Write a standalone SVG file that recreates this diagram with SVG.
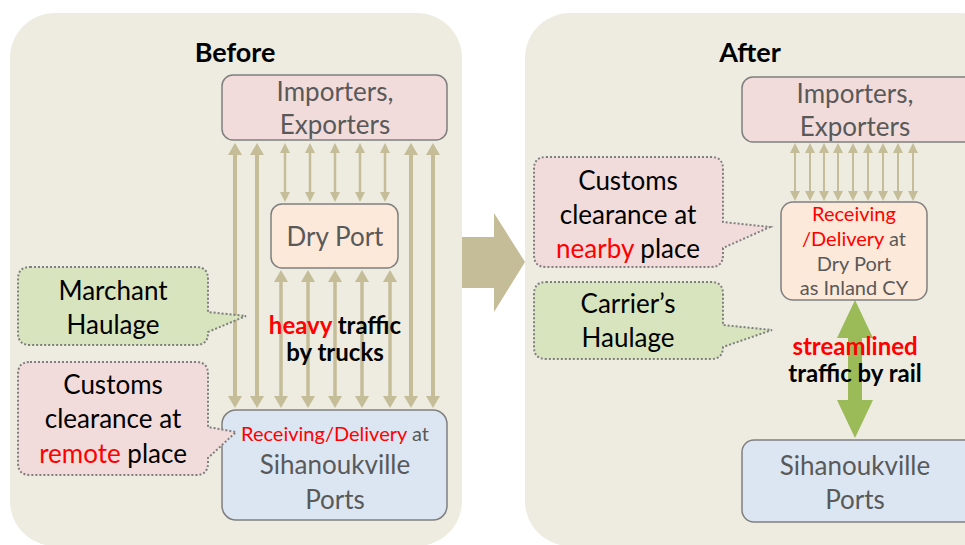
<svg xmlns="http://www.w3.org/2000/svg" width="965" height="545" viewBox="0 0 965 545">
<style>
text{font-family:Lato,"Open Sans","Liberation Sans",sans-serif;text-anchor:middle}
.t{font-size:27px;font-weight:bold;fill:#000}
.box{stroke:#7f7f7f;stroke-width:1.5}
.bl{font-size:26px;fill:#595959}
.sm{font-size:20px;fill:#595959}
.red{fill:#ff0000}
.co{stroke:#7f7f7f;stroke-width:2;stroke-dasharray:2 2}
.cl{font-size:26px;fill:#000}
.bd{font-size:24px;font-weight:bold;fill:#000}
.a1{stroke:#c4bd97;stroke-width:4;fill:none;marker-start:url(#hb);marker-end:url(#hb)}
.a2{stroke:#c4bd97;stroke-width:2.5;fill:none;marker-start:url(#hs);marker-end:url(#hs)}
</style>
<defs>
<marker id="hb" viewBox="0 0 12 14" refX="1" refY="7" markerWidth="12" markerHeight="14" markerUnits="userSpaceOnUse" orient="auto-start-reverse"><path d="M0,0 L12,7 L0,14 Z" fill="#c4bd97"/></marker>
<marker id="hs" viewBox="0 0 10 10" refX="1" refY="5" markerWidth="10" markerHeight="10" markerUnits="userSpaceOnUse" orient="auto-start-reverse"><path d="M0,0 L10,5 L0,10 Z" fill="#c4bd97"/></marker>
</defs>
<rect x="10" y="13" width="452" height="533" rx="45" fill="#eeece1"/>
<rect x="525" y="13" width="480" height="533" rx="45" fill="#eeece1"/>
<polygon id="bigArrow" points="462,237 494,237 494,213 525,262 494,312 494,288 462,288" fill="#c4bd97"/>
<text class="t" x="235" y="62">Before</text>
<text class="t" x="750" y="62">After</text>
<g id="connectors">
<line class="a1" x1="235" y1="154" x2="235" y2="397"/>
<line class="a1" x1="257" y1="154" x2="257" y2="397"/>
<line class="a1" x1="411" y1="154" x2="411" y2="397"/>
<line class="a1" x1="433" y1="154" x2="433" y2="397"/>
<line class="a2" x1="285" y1="152" x2="285" y2="193"/>
<line class="a2" x1="310" y1="152" x2="310" y2="193"/>
<line class="a2" x1="335" y1="152" x2="335" y2="193"/>
<line class="a2" x1="360" y1="152" x2="360" y2="193"/>
<line class="a2" x1="385" y1="152" x2="385" y2="193"/>
<line class="a1" x1="281" y1="281" x2="281" y2="397" style="stroke-width:3.5"/>
<line class="a1" x1="308" y1="281" x2="308" y2="397" style="stroke-width:3.5"/>
<line class="a1" x1="335" y1="281" x2="335" y2="397" style="stroke-width:3.5"/>
<line class="a1" x1="362" y1="281" x2="362" y2="397" style="stroke-width:3.5"/>
<line class="a1" x1="390" y1="281" x2="390" y2="397" style="stroke-width:3.5"/>
<line class="a2" x1="795" y1="152" x2="795" y2="192" style="stroke-width:2"/>
<line class="a2" x1="810" y1="152" x2="810" y2="192" style="stroke-width:2"/>
<line class="a2" x1="824" y1="152" x2="824" y2="192" style="stroke-width:2"/>
<line class="a2" x1="838" y1="152" x2="838" y2="192" style="stroke-width:2"/>
<line class="a2" x1="853" y1="152" x2="853" y2="192" style="stroke-width:2"/>
<line class="a2" x1="868" y1="152" x2="868" y2="192" style="stroke-width:2"/>
<line class="a2" x1="883" y1="152" x2="883" y2="192" style="stroke-width:2"/>
<line class="a2" x1="898" y1="152" x2="898" y2="192" style="stroke-width:2"/>
<line class="a2" x1="913" y1="152" x2="913" y2="192" style="stroke-width:2"/>
<polygon id="railArrow" points="855,300 873,338 862,338 862,400 873,400 855,438 837,400 848,400 848,338 837,338" fill="#9bbb59"/>
</g>
<g id="importersBefore">
<rect class="box" x="222" y="75" width="225" height="65" rx="11" fill="#f2dcdb"/>
<text class="bl" x="335" y="101">Importers,</text>
<text class="bl" x="335" y="134">Exporters</text>
</g>
<g id="dryPortBefore">
<rect class="box" x="271" y="204" width="127" height="64" rx="11" fill="#fde9d9"/>
<text class="bl" x="335" y="246">Dry Port</text>
</g>
<g id="portsBefore">
<rect class="box" x="222" y="410" width="225" height="110" rx="14" fill="#dce6f2"/>
<text class="sm" x="335" y="441"><tspan class="red">Receiving/Delivery</tspan> at</text>
<text class="bl" x="335" y="474">Sihanoukville</text>
<text class="bl" x="335" y="509">Ports</text>
</g>
<g id="marchantHaulage">
<path class="co" d="M30,267 H196 Q208,267 208,279 V312 L246,316 L208,332 V333 Q208,345 196,345 H30 Q18,345 18,333 V279 Q18,267 30,267 Z" fill="#d7e4bd"/>
<text class="cl" x="113" y="300">Marchant</text>
<text class="cl" x="113" y="334">Haulage</text>
</g>
<g id="customsRemote">
<path class="co" d="M30,362 H196 Q208,362 208,374 V427 L236,432 L208,458 V463 Q208,475 196,475 H30 Q18,475 18,463 V374 Q18,362 30,362 Z" fill="#f2dcdb"/>
<text class="cl" x="113" y="394">Customs</text>
<text class="cl" x="113" y="428">clearance at</text>
<text class="cl" x="113" y="463"><tspan class="red">remote</tspan> place</text>
</g>
<g id="heavyTraffic">
<text class="bd" x="335" y="334"><tspan class="red">heavy</tspan> traffic</text>
<text class="bd" x="335" y="361">by trucks</text>
</g>
<g id="importersAfter">
<rect class="box" x="742" y="77" width="240" height="65" rx="11" fill="#f2dcdb"/>
<text class="bl" x="855" y="103">Importers,</text>
<text class="bl" x="855" y="136">Exporters</text>
</g>
<g id="dryPortAfter">
<rect class="box" x="781" y="202" width="146" height="98" rx="12" fill="#fde9d9"/>
<text class="sm" x="854" y="221"><tspan class="red">Receiving</tspan></text>
<text class="sm" x="854" y="246"><tspan class="red">/Delivery</tspan> at</text>
<text class="sm" x="854" y="271">Dry Port</text>
<text class="sm" x="854" y="295">as Inland CY</text>
</g>
<g id="portsAfter">
<rect class="box" x="742" y="440" width="240" height="82" rx="12" fill="#dce6f2"/>
<text class="bl" x="855" y="475">Sihanoukville</text>
<text class="bl" x="855" y="509">Ports</text>
</g>
<g id="customsNearby">
<path class="co" d="M546,157 H711 Q723,157 723,169 V222 L770,227 L723,248 V255 Q723,267 711,267 H546 Q534,267 534,255 V169 Q534,157 546,157 Z" fill="#f2dcdb"/>
<text class="cl" x="628" y="190">Customs</text>
<text class="cl" x="628" y="224">clearance at</text>
<text class="cl" x="628" y="258"><tspan class="red">nearby</tspan> place</text>
</g>
<g id="carriersHaulage">
<path class="co" d="M546,282 H711 Q723,282 723,294 V325 L772,330 L723,347 V347 Q723,359 711,359 H546 Q534,359 534,347 V294 Q534,282 546,282 Z" fill="#d7e4bd"/>
<text class="cl" x="628" y="313">Carrier’s</text>
<text class="cl" x="628" y="347">Haulage</text>
</g>
<g id="streamlined">
<text class="bd" x="855" y="355"><tspan class="red">streamlined</tspan></text>
<text class="bd" x="855" y="382">traffic by rail</text>
</g>
</svg>
